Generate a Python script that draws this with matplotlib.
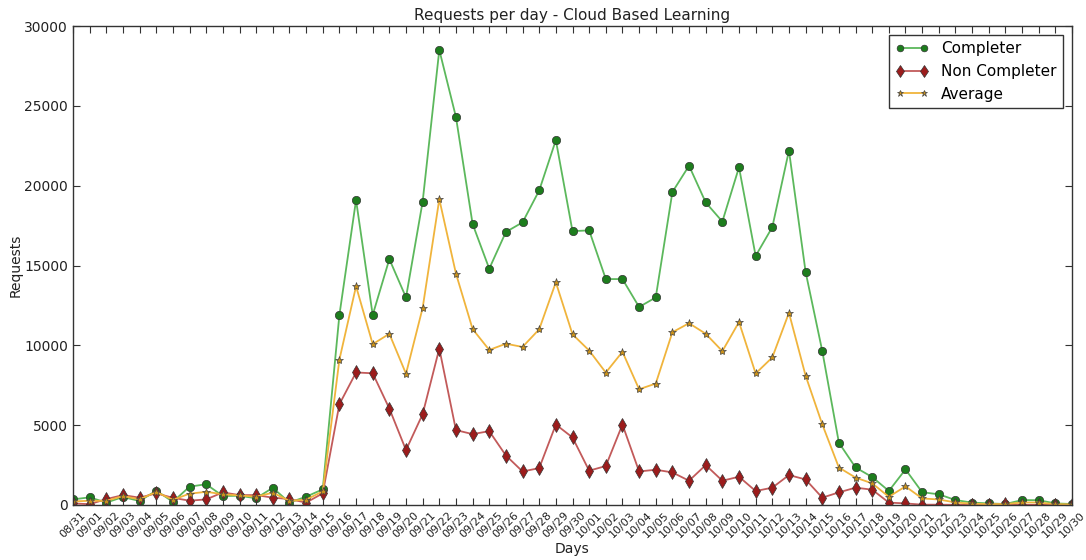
import matplotlib
matplotlib.use("Agg")
import matplotlib.pyplot as plt
import numpy as np

days = ["08/31"] + [f"09/{d:02d}" for d in range(1, 31)] + [f"10/{d:02d}" for d in range(1, 31)]

completer = [350, 480, 150, 500, 250, 900, 200, 1150, 1300, 560, 580, 420, 1080, 150, 520, 980,
             11900, 19100, 11900, 15400, 13000, 19000, 28500, 24300, 17600, 14800, 17100, 17700,
             19700, 22850, 17150, 17200, 14150, 14150, 12400, 13000, 19600, 21250, 18950, 17750,
             21150, 15600, 17400, 22200, 14600, 9650, 3900, 2350, 1750, 880, 2230, 800, 670, 310,
             150, 100, 60, 310, 300, 100, 60]

non_completer = [100, 50, 370, 620, 460, 730, 450, 270, 350, 790, 620, 620, 460, 370, 150, 730,
                 6310, 8300, 8250, 6040, 3440, 5690, 9800, 4690, 4440, 4625, 3100, 2100, 2310,
                 5040, 4230, 2150, 2440, 5040, 2100, 2210, 2040, 1520, 2500, 1520, 1770, 875,
                 1085, 1875, 1600, 460, 790, 1085, 960, 150, 100, 20, 20, 10, 10, 10, 60, 10, 10,
                 10, 10]

average = [225, 265, 260, 560, 355, 815, 325, 710, 825, 675, 600, 520, 770, 260, 335, 855,
           9105, 13700, 10075, 10720, 8220, 12345, 19150, 14495, 11020, 9712, 10100, 9900,
           11005, 13945, 10690, 9675, 8295, 9595, 7250, 7605, 10820, 11385, 10725, 9635, 11460,
           8237, 9242, 12037, 8100, 5055, 2345, 1717, 1355, 515, 1165, 410, 345, 160, 80, 55,
           60, 160, 155, 55, 35]

fig = plt.figure(figsize=(10.86, 5.6), dpi=100)
ax = fig.add_axes([73 / 1086, 1 - 505 / 560, (1072 - 73) / 1086, (505 - 26) / 560])

x = np.arange(len(days))
ax.plot(x, completer, color="#5cb85c", lw=1.3, marker="o", markersize=6,
        markerfacecolor="#1d7d1d", markeredgecolor="#333333", markeredgewidth=0.5,
        label="Completer")
ax.plot(x, non_completer, color="#c25a5a", lw=1.3, marker="d", markersize=7.5,
        markerfacecolor="#9c1c1c", markeredgecolor="#333333", markeredgewidth=0.5,
        label="Non Completer")
ax.plot(x, average, color="#f0b43c", lw=1.3, marker="*", markersize=6,
        markerfacecolor="#c8901a", markeredgecolor="#444444", markeredgewidth=0.5,
        label="Average")

ax.set_xlim(0, len(days) - 1)
ax.set_ylim(0, 30000)
ax.set_xticks(x)
ax.set_xticklabels(days, rotation=45, fontsize=8, color="#222222")
ax.set_yticks(np.arange(0, 30001, 5000))
ax.tick_params(axis="y", labelsize=10, colors="#222222")
ax.tick_params(direction="in", top=True, right=True, length=5, width=0.8, color="#333333")
for s in ax.spines.values():
    s.set_color("#333333")
    s.set_linewidth(1.0)

ax.set_title("Requests per day - Cloud Based Learning", fontsize=11, color="#222222", pad=4)
ax.set_xlabel("Days", fontsize=10, color="#222222", labelpad=2)
ax.set_ylabel("Requests", fontsize=10, color="#222222", labelpad=1)

leg = ax.legend(loc="upper right", fontsize=11, fancybox=False, framealpha=1,
                edgecolor="#333333", borderaxespad=0.6, handlelength=2.2,
                numpoints=2, markerscale=0.8)
leg.get_frame().set_linewidth(1.0)

fig.savefig("out.png", dpi=100, facecolor="white")
